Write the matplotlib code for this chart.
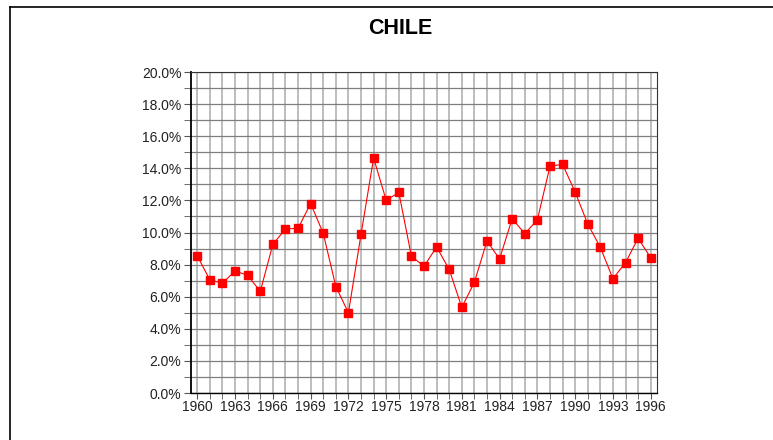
from matplotlib import pyplot as plt
from matplotlib.lines import Line2D
from matplotlib.ticker import MultipleLocator, FixedLocator, FuncFormatter

plt.rcParams['font.family'] = ['Liberation Sans', 'DejaVu Sans']

# Annual values for Chile, in percent
years = list(range(1960, 1997))
values = [8.55, 7.04, 6.85, 7.6, 7.33, 6.33, 9.26, 10.22, 10.26, 11.8,
          9.95, 6.63, 5.0, 9.89, 14.64, 12.0, 12.5, 8.52, 7.89, 9.1,
          7.7, 5.34, 6.9, 9.47, 8.35, 10.86, 9.93, 10.78, 14.12, 14.25,
          12.52, 10.53, 9.08, 7.12, 8.12, 9.64, 8.43]
label_years = years[::3]

fig = plt.figure(figsize=(7.73, 4.40), dpi=100)
ax = fig.add_axes([191 / 773, 1 - 393 / 440, 466 / 773, 321 / 440])

# outer frame (top and left edges visible)
fig.add_artist(Line2D([10 / 773, 10 / 773], [0, 1 - 7 / 440], color='black', lw=1.2,
                      transform=fig.transFigure))
fig.add_artist(Line2D([10 / 773, 1], [1 - 7 / 440, 1 - 7 / 440], color='black', lw=1.2,
                      transform=fig.transFigure))

ax.plot(years, values, color='#ff0000', lw=0.8, marker='s', markersize=5.2,
        markeredgecolor='#ff0000', zorder=3)

ax.set_xlim(1959.5, 1996.5)
ax.set_ylim(0, 20)

ax.xaxis.set_major_locator(FixedLocator(label_years))
ax.xaxis.set_minor_locator(MultipleLocator(1))
ax.yaxis.set_major_locator(MultipleLocator(2))
ax.yaxis.set_minor_locator(MultipleLocator(1))
ax.yaxis.set_major_formatter(FuncFormatter(lambda v, p: '%.1f%%' % v))
ax.xaxis.set_major_formatter(FuncFormatter(lambda v, p: '%d' % v))

ax.grid(axis='x', which='both', color='#b8b8b8', lw=1.3, zorder=0)
ax.grid(axis='y', which='both', color='#7f7f7f', lw=0.9, zorder=0)
ax.set_axisbelow(True)

ax.tick_params(axis='both', which='both', labelsize=10, labelcolor='#222222',
               color='#555555')
ax.tick_params(axis='y', which='both', length=5, pad=2)
ax.tick_params(axis='x', which='both', length=4, pad=1)

ax.spines['left'].set_linewidth(1.3)
ax.spines['bottom'].set_linewidth(1.0)
ax.spines['top'].set_color('#333333')
ax.spines['right'].set_color('#333333')

fig.text(400 / 773, 1 - 29 / 440, 'CHILE', ha='center', va='center',
         fontsize=15.5, fontweight='bold')

fig.savefig('out.png', dpi=100)
